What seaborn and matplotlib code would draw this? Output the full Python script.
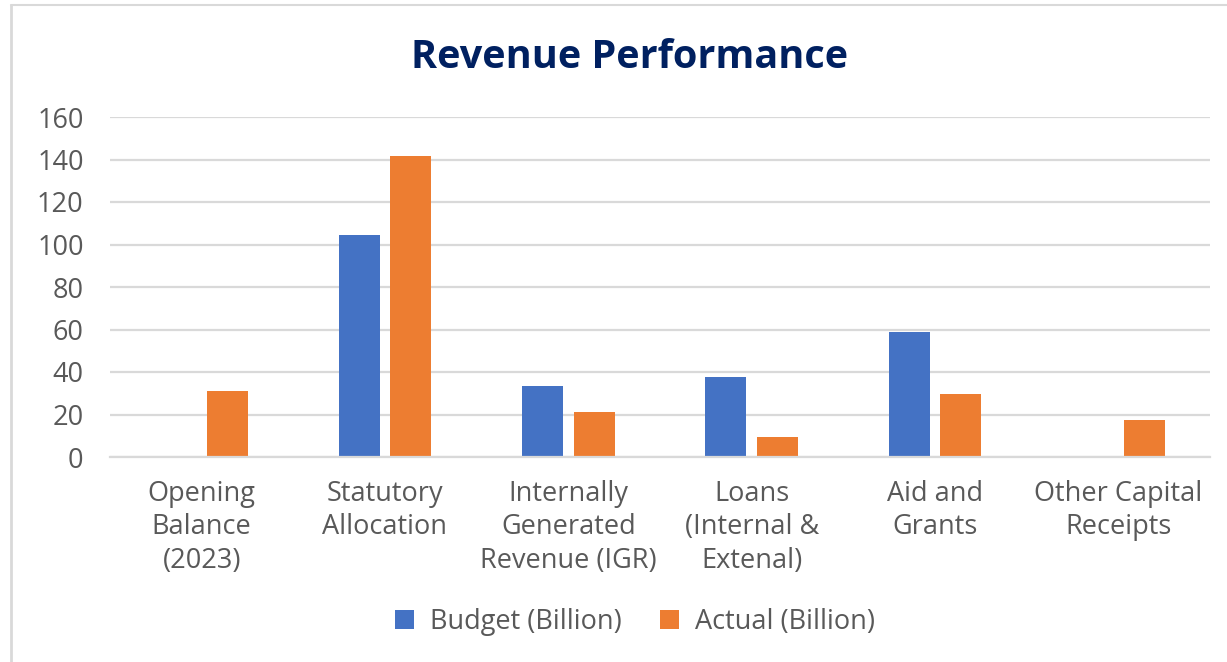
import numpy as np
import pandas as pd
import matplotlib
matplotlib.use("Agg")
import matplotlib.pyplot as plt
from matplotlib.lines import Line2D
import seaborn as sns

categories = ["Opening\nBalance\n(2023)", "Statutory\nAllocation", "Internally\nGenerated\nRevenue (IGR)",
              "Loans\n(Internal &\nExtenal)", "Aid and\nGrants", "Other Capital\nReceipts"]
budget = [np.nan, 104.5, 33.3, 37.5, 58.8, np.nan]
actual = [31.2, 141.8, 21.3, 9.6, 29.8, 17.2]
series_names = ["Budget (Billion)", "Actual (Billion)"]
yticks = [0, 20, 40, 60, 80, 100, 120, 140, 160]

df = pd.DataFrame({
    "Category": categories * 2,
    "Series": [series_names[0]] * len(categories) + [series_names[1]] * len(categories),
    "Value": budget + actual,
})

sns.set_theme(style="white")
plt.rcParams["font.family"] = ["Open Sans", "DejaVu Sans"]

fig = plt.figure(figsize=(12.27, 6.62), dpi=100)
ax = fig.add_axes([110 / 1227, 1 - 457 / 662, 1100 / 1227, 340 / 662])

sns.barplot(data=df, x="Category", y="Value", hue="Series", order=categories,
            hue_order=series_names, palette=["#4472C4", "#ED7D31"],
            width=0.566, gap=0.21, linewidth=0, saturation=1, ax=ax, legend=True)

ax.set_ylim(0, 160)
ax.set_xlim(-0.5, len(categories) - 0.5)
ax.set_yticks(yticks)
ax.set_yticklabels([str(v) for v in yticks])
ax.yaxis.grid(True, color="#d9d9d9", linewidth=1.6)
ax.set_axisbelow(True)
for s in ["top", "right", "left"]:
    ax.spines[s].set_visible(False)
ax.spines["bottom"].set_color("#d9d9d9")
ax.spines["bottom"].set_linewidth(1.6)
ax.tick_params(axis="both", length=0, labelsize=19.5, labelcolor="#595959")
ax.tick_params(axis="y", pad=19)
ax.tick_params(axis="x", pad=16.5)
for lbl in ax.get_xticklabels():
    lbl.set_multialignment("center")
    lbl.set_linespacing(1.26)
ax.set_xlabel("")
ax.set_ylabel("")

handles, labels = ax.get_legend_handles_labels()
ax.legend(handles, labels, loc="center", bbox_to_anchor=(635 / 1227, 1 - 622 / 662),
          bbox_transform=fig.transFigure, ncol=2, frameon=False, fontsize=19.5,
          labelcolor="#595959", handlelength=0.7, handleheight=0.7,
          handletextpad=0.6, columnspacing=1.4)

fig.text(630 / 1227, 1 - 57 / 662, "Revenue Performance", ha="center", va="center",
         fontsize=28.5, fontweight="bold", color="#002060")

fig.add_artist(Line2D([11 / 1227, 11 / 1227], [0, 1 - 5 / 662], transform=fig.transFigure,
                      color="#d9d9d9", linewidth=2))
fig.add_artist(Line2D([11 / 1227, 1], [1 - 5 / 662, 1 - 5 / 662], transform=fig.transFigure,
                      color="#d9d9d9", linewidth=1.5))

fig.savefig("out.png", dpi=100, facecolor="white")
